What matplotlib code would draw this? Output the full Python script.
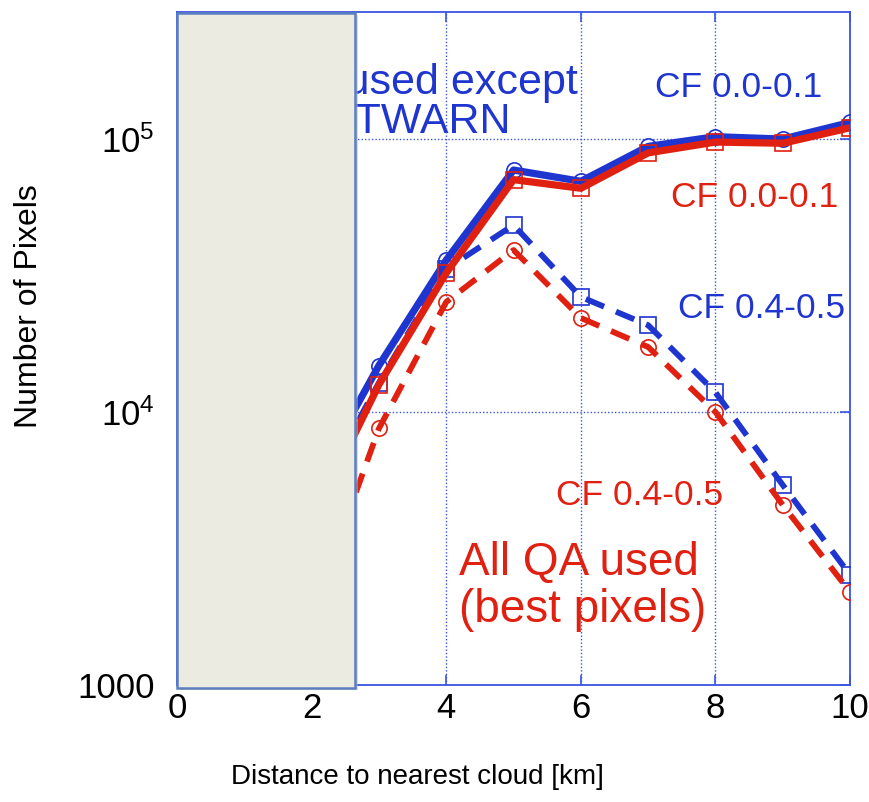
import matplotlib
matplotlib.use("Agg")
import matplotlib.pyplot as plt
from matplotlib.patches import Rectangle
from matplotlib.ticker import FixedLocator, FixedFormatter, NullLocator

plt.rcParams['font.family'] = ['Liberation Sans', 'DejaVu Sans']

# ---- data ----
distance = [2, 3, 4, 5, 6, 7, 8, 9, 10]
blue_cf01 = [5300, 14800, 36000, 77000, 70000, 94000, 102000, 100000, 115000]
red_cf01 = [3950, 12600, 32300, 71000, 66000, 89000, 97500, 96500, 110000]
blue_cf45 = [4500, 12800, 33400, 48400, 26400, 20800, 11800, 5400, 2530]
red_cf45 = [1800, 8700, 25300, 39200, 22100, 17300, 10000, 4560, 2190]

xticks = [0, 2, 4, 6, 8, 10]
yticks = [1000, 1e4, 1e5]
ytick_labels = ["1000", r"$\mathdefault{10^{4}}$", r"$\mathdefault{10^{5}}$"]

BLUE = "#1f35d0"
RED = "#e02010"
AX = "#3a55e0"

fig = plt.figure(figsize=(8.69, 8.02), dpi=100)
ax = fig.add_axes([0.2037, 0.146, 0.7745, 0.839])
ax.set_yscale('log')
ax.set_xlim(0, 10)
ax.set_ylim(1000, 2.92e5)

ax.plot(distance, blue_cf45, color=BLUE, lw=4.2, ls=(0, (3.4, 2.2)),
        marker='s', ms=11, mfc='none', mec=BLUE, mew=1.2, zorder=3)
ax.plot(distance, red_cf45, color=RED, lw=4.2, ls=(0, (3.4, 2.2)),
        marker='o', ms=11, mfc='none', mec=RED, mew=1.2, zorder=3)
ax.plot(distance, blue_cf01, color=BLUE, lw=5.2,
        marker='o', ms=11, mfc='none', mec=BLUE, mew=1.2, zorder=4)
ax.plot(distance, red_cf01, color=RED, lw=5.2,
        marker='s', ms=11, mfc='none', mec=RED, mew=1.2, zorder=5)

ax.xaxis.set_major_locator(FixedLocator(xticks))
ax.set_xticklabels([str(t) for t in xticks])
ax.yaxis.set_major_locator(FixedLocator(yticks))
ax.yaxis.set_major_formatter(FixedFormatter(ytick_labels))
ax.yaxis.set_minor_locator(NullLocator())

ax.tick_params(axis='both', which='major', direction='in', length=7, width=1.2,
               color=AX, top=True, right=True, labelsize=25, labelcolor='black')
ax.tick_params(axis='y', pad=16)
ax.tick_params(axis='x', pad=5)
for s in ax.spines.values():
    s.set_color(AX)
    s.set_linewidth(1.3)
ax.grid(True, which='major', color=AX, ls=(0, (1, 1.5)), lw=1.0)

ax.set_xlabel("Distance to nearest cloud [km]", fontsize=20)
ax.xaxis.set_label_coords(0.357, -0.117)
ax.set_ylabel("Number of Pixels", fontsize=23)
ax.yaxis.set_label_coords(-0.198, 0.563)

# annotations
ax.text(9.59, 1.55e5, "CF 0.0-0.1", color=BLUE, fontsize=25.5, ha='right', va='center')
ax.text(9.82, 6.1e4, "CF 0.0-0.1", color=RED, fontsize=25.5, ha='right', va='center')
ax.text(9.92, 2.39e4, "CF 0.4-0.5", color=BLUE, fontsize=25.5, ha='right', va='center')
ax.text(8.12, 4.95e3, "CF 0.4-0.5", color=RED, fontsize=25.5, ha='right', va='center')
ax.text(4.19, 2.29e3, "All QA used\n(best pixels)", color=RED, fontsize=33,
        ha='left', va='center', linespacing=1.1)
ax.text(5.96, 1.60e5, "QA used except", color=BLUE, fontsize=31, ha='right', va='center', zorder=1)
ax.text(4.95, 1.15e5, "OUTWARN", color=BLUE, fontsize=31, ha='right', va='center', zorder=1)

# covering panel
shadow = Rectangle((0.004, -0.0075), 0.2645, 1.0035, transform=ax.transAxes,
                   facecolor='#b8b8b8', edgecolor='none', alpha=0.5, clip_on=False, zorder=9)
ax.add_patch(shadow)
panel = Rectangle((0.0, -0.0045), 0.2645, 1.0025, transform=ax.transAxes,
                  facecolor='#ecebe1', edgecolor='#5a7fc0', lw=1.8, clip_on=False, zorder=10)
ax.add_patch(panel)

fig.savefig("out.png", dpi=100)
